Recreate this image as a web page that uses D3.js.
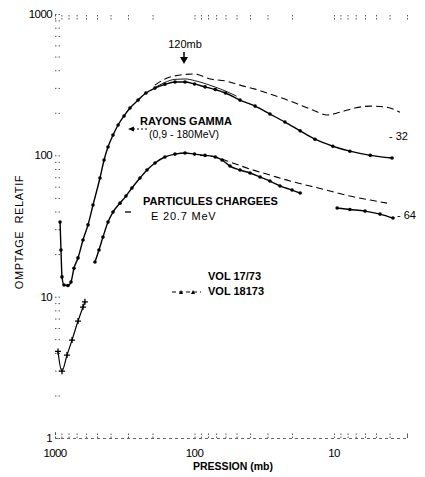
<!DOCTYPE html>
<html><head><meta charset="utf-8">
<script src="https://cdn.jsdelivr.net/npm/d3@7"></script>
<style>
html,body{margin:0;padding:0;background:#fff;}
svg{display:block;font-family:"Liberation Sans",Arial,sans-serif;}
</style></head>
<body>
<svg id="c" width="425" height="477"></svg>
<script>
// ---- data (pressure in mb, relative count) ----
const gammaP = [920, 906, 891, 862, 807, 768, 731, 684, 630, 580, 534, 476, 445, 417, 384, 353, 320, 290, 254, 223, 192, 163, 138, 117, 100, 84, 71, 60, 47.2, 36.8, 28.8, 22.5, 17.5, 13.7, 10.2, 7.7, 5.5, 3.84];
const gammaC = [33.7, 21.4, 13.8, 12.1, 12.0, 12.7, 15.9, 18.8, 25.2, 32.2, 44.5, 69.1, 92.7, 114.5, 139, 164, 190, 216, 246, 276, 299, 318, 330, 330, 320, 305, 292, 276, 246, 223, 196, 172, 149, 130, 116, 107, 100, 95.7];
const gammaFitP = [192, 163, 138, 117, 100, 84, 71, 60, 50];
const gammaFitC = [302, 328, 345, 347, 338, 322, 304, 285, 262];
const gamma2P = [192, 163, 127, 100, 77.4, 60, 47.2, 36.8, 28.8, 22.5, 17.5, 13.7, 11.2, 9.05, 7.1, 5.5, 4.3, 3.37];
const gamma2C = [314, 347, 370, 376, 347, 336, 314, 294, 272, 250, 227, 206, 193, 202, 216, 223, 220, 202];
const chargedP = [517, 484, 453, 417, 384, 342, 310, 281, 246, 219, 192, 163, 138, 117, 100, 84, 71, 63.5, 55.7, 47.2, 40, 33.9, 28.8, 24.4, 20, 17.5];
const chargedC = [17.6, 21.4, 26.4, 33.7, 39.7, 45.9, 51.5, 58.7, 69.1, 78.7, 88.3, 97.3, 102, 104, 102, 100, 97.3, 92.7, 84, 78.7, 75, 70.2, 65.8, 60.7, 56.8, 54.1];
const chargedHiP = [9.5, 7.7, 6.0, 4.68, 3.78];
const chargedHiC = [42.4, 41.4, 40.3, 38.4, 36];
const charged2P = [91.4, 71, 55.7, 40, 28.8, 20.7, 14.9, 10.7, 7.7, 5.5, 4.17];
const charged2C = [100, 97.3, 89.7, 80, 72.6, 65.8, 60.7, 55.9, 51.5, 48.3, 45.9];
const lowP = [952, 891, 820, 755, 684, 630, 610];
const lowC = [4.1, 2.97, 3.86, 4.93, 6.72, 8.44, 9.2];
const xTickLabels = [1000, 100, 10];
const yTickLabels = [1, 10, 100, 1000];

const svg = d3.select("#c");
const x = d3.scaleLog().domain([1000, 3]).range([55, 407]);
const y = d3.scaleLog().domain([1, 1000]).range([438, 14]);
const zip = (a, b) => a.map((v, i) => [v, b[i]]);
const line = d3.line().x(d => x(d[0])).y(d => y(d[1])).curve(d3.curveMonotoneX);
const lineC = d3.line().x(d => x(d[0])).y(d => y(d[1])).curve(d3.curveCatmullRom.alpha(0.5));

// ---- axes ----
const minorX = x.ticks(30).filter(v => v >= 3 && v <= 1000);
const minorY = y.ticks(40);
const gL = svg.append("g").attr("transform", "translate(55,0)")
  .call(d3.axisRight(y).tickValues(minorY).tickSize(6).tickFormat(""));
gL.select(".domain").remove();
gL.selectAll("line").attr("stroke", "#555").attr("stroke-dasharray", "1.5,2");
const gT = svg.append("g").attr("transform", "translate(0,15)")
  .call(d3.axisBottom(x).tickValues(minorX).tickSize(5).tickFormat(""));
gT.select(".domain").remove();
gT.selectAll("line").attr("stroke", "#555").attr("stroke-dasharray", "1.5,1.5");
const gB = svg.append("g").attr("transform", "translate(0,438)")
  .call(d3.axisTop(x).tickValues(minorX).tickSize(6).tickFormat(""));
gB.select(".domain").attr("stroke", "#666").attr("stroke-dasharray", "3,3");
gB.selectAll("line").attr("stroke", "#555").attr("stroke-dasharray", "1.5,1.5");

svg.append("g").selectAll("text").data(yTickLabels).join("text")
  .attr("x", 52).attr("y", d => y(d) + 4).attr("text-anchor", "end")
  .attr("font-size", 11.5).attr("letter-spacing", -0.6).text(d => d);
svg.append("g").selectAll("text").data(xTickLabels).join("text")
  .attr("x", d => x(d)).attr("y", 457).attr("text-anchor", "middle")
  .attr("font-size", 11.5).attr("letter-spacing", -0.6).text(d => d);

svg.append("text").attr("x", 233).attr("y", 470).attr("text-anchor", "middle")
  .attr("font-size", 10.5).attr("font-weight", "bold").text("PRESSION (mb)");
svg.append("text").attr("transform", "translate(23,232) rotate(-90)").attr("text-anchor", "middle")
  .attr("font-size", 11).attr("letter-spacing", 0.6).attr("xml:space", "preserve").text("OMPTAGE  RELATIF");

// ---- curves ----
const solid = [zip(gammaP, gammaC), zip(chargedP, chargedC), zip(chargedHiP, chargedHiC)];
svg.append("g").selectAll("path").data(solid).join("path")
  .attr("d", line).attr("fill", "none").attr("stroke", "#000").attr("stroke-width", 1.4);
svg.append("path").attr("d", line(zip(gammaFitP, gammaFitC))).attr("fill", "none").attr("stroke", "#000").attr("stroke-width", 0.9);
svg.append("path").attr("d", lineC(zip(lowP, lowC))).attr("fill", "none").attr("stroke", "#000").attr("stroke-width", 1.2);
const dashed = [zip(gamma2P, gamma2C), zip(charged2P, charged2C)];
svg.append("g").selectAll("path").data(dashed).join("path")
  .attr("d", line).attr("fill", "none").attr("stroke", "#000").attr("stroke-width", 1.1)
  .attr("stroke-dasharray", "7,4");
const pts = [].concat(...solid);
svg.append("g").selectAll("circle").data(pts).join("circle")
  .attr("cx", d => x(d[0])).attr("cy", d => y(d[1])).attr("r", 1.8).attr("fill", "#000");
svg.append("g").selectAll("path").data(zip(lowP, lowC)).join("path")
  .attr("d", d => `M${x(d[0]) - 3},${y(d[1])}h6M${x(d[0])},${y(d[1]) - 3}v6`)
  .attr("stroke", "#000").attr("stroke-width", 1.3);

// ---- annotations ----
const T = (tx, ty, s, opt = {}) => svg.append("text").attr("x", tx).attr("y", ty)
  .attr("font-size", opt.size || 11).attr("font-weight", opt.bold ? "bold" : "normal")
  .attr("text-anchor", opt.anchor || "start").attr("letter-spacing", opt.ls || 0).text(s);
T(185, 48, "120mb", {anchor: "middle", size: 11});
svg.append("line").attr("x1", 184).attr("x2", 184).attr("y1", 52).attr("y2", 58).attr("stroke", "#000").attr("stroke-width", 1.5);
svg.append("path").attr("d", "M180,57L188,57L184,64Z").attr("fill", "#000");
T(140, 125, "RAYONS GAMMA", {bold: true, size: 11});
T(149, 138, "(0,9 - 180MeV)", {size: 10.5});
svg.append("path").attr("d", "M128,129L134,126.5L134,131.5Z").attr("fill", "#000");
svg.append("line").attr("x1", 133).attr("x2", 148).attr("y1", 129).attr("y2", 129).attr("stroke", "#000").attr("stroke-dasharray", "2,2");
T(143, 205, "PARTICULES  CHARGEES", {bold: true, size: 11});
T(151, 220, "E 20.7 MeV", {size: 11, ls: 0.8});
svg.append("line").attr("x1", 125).attr("x2", 131).attr("y1", 212).attr("y2", 212).attr("stroke", "#000").attr("stroke-width", 1.3);
T(208, 280, "VOL  17/73", {bold: true, size: 11});
T(208, 295, "VOL  18173", {bold: true, size: 11});
svg.append("line").attr("x1", 172).attr("x2", 201).attr("y1", 292).attr("y2", 292).attr("stroke", "#000").attr("stroke-dasharray", "4,3");
svg.selectAll(".tri").data([181, 193]).join("path").attr("d", d => `M${d - 2},294L${d + 2},294L${d},290Z`).attr("fill", "#000");
T(389, 140, "- 32", {size: 11});
T(397, 219, "- 64", {size: 11});
</script>
</body></html>
